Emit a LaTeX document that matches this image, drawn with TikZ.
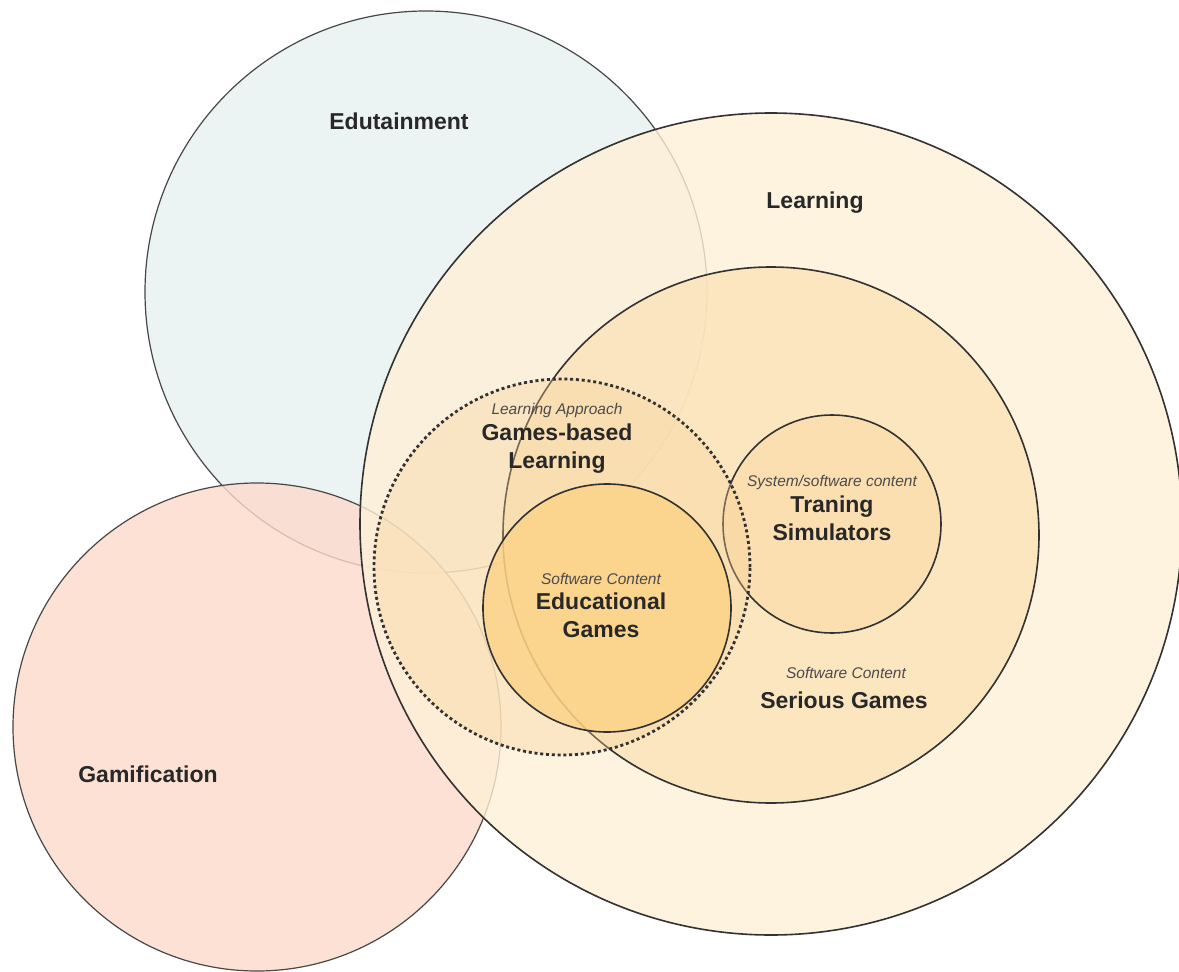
\documentclass[tikz,border=0pt]{standalone}
\usepackage{fontspec}
\setmainfont{Liberation Sans}
\definecolor{edufill}{RGB}{235,244,243}
\definecolor{gamfill}{RGB}{253,218,203}
\definecolor{learnfill}{RGB}{254,240,215}
\definecolor{serfill}{RGB}{251,227,185}
\definecolor{gblfill}{RGB}{248,210,150}
\definecolor{edgfill}{RGB}{252,210,134}
\definecolor{trsfill}{RGB}{251,222,174}
\definecolor{lineclr}{RGB}{50,50,50}
\definecolor{txtclr}{RGB}{40,40,40}
\definecolor{subclr}{RGB}{75,75,75}
\tikzset{
  ring/.style={draw=lineclr, line width=1.6pt},
  thinring/.style={draw=lineclr!90, line width=1.2pt},
  biglabel/.style={text=txtclr, font=\fontsize{23}{28}\selectfont\bfseries, align=center, inner sep=0pt},
  sublabel/.style={text=subclr, font=\fontsize{15.5}{18}\selectfont\itshape, inner sep=0pt}
}
\begin{document}
\begin{tikzpicture}[x=1pt,y=-1pt]
\useasboundingbox (0,0) rectangle (1179,972);
\fill[white] (0,0) rectangle (1179,972);
% circles
\draw[thinring, fill=edufill] (426,292) circle[radius=281pt];
\draw[thinring, fill=gamfill, fill opacity=0.8] (257,727) circle[radius=244pt];
\draw[ring, fill=learnfill, fill opacity=0.8] (771,524) circle[radius=411pt];
\draw[ring, fill=serfill, fill opacity=0.8] (771,535) circle[radius=268pt];
\draw[ring, fill=trsfill, fill opacity=0.8] (832,524) circle[radius=109pt];
\draw[draw=lineclr, line width=2.8pt, dash pattern=on 3pt off 2.8pt, fill=gblfill, fill opacity=0.35] (562,567) circle[radius=188pt];
\draw[ring, fill=edgfill, fill opacity=0.8] (607,608) circle[radius=124pt];
% labels
\node[biglabel] (edut) at (399,121) {Edutainment};
\node[biglabel] (learn) at (815,203) {Learning};
\node[biglabel] (gamif) at (148,774) {Gamification};
\node[sublabel] (gblsub) at (557,410) {Learning Approach};
\node[biglabel, anchor=north] (gbl) at (557,424) {Games-based\\Learning};
\node[sublabel] (trssub) at (832,482) {System/software content};
\node[biglabel, anchor=north] (trs) at (832,496) {Traning\\Simulators};
\node[sublabel] (edgsub) at (601,579) {Software Content};
\node[biglabel, anchor=north] (edg) at (601,593) {Educational\\Games};
\node[sublabel] (sersub) at (846,673) {Software Content};
\node[biglabel] (ser) at (844,700) {Serious Games};
\end{tikzpicture}
\end{document}
